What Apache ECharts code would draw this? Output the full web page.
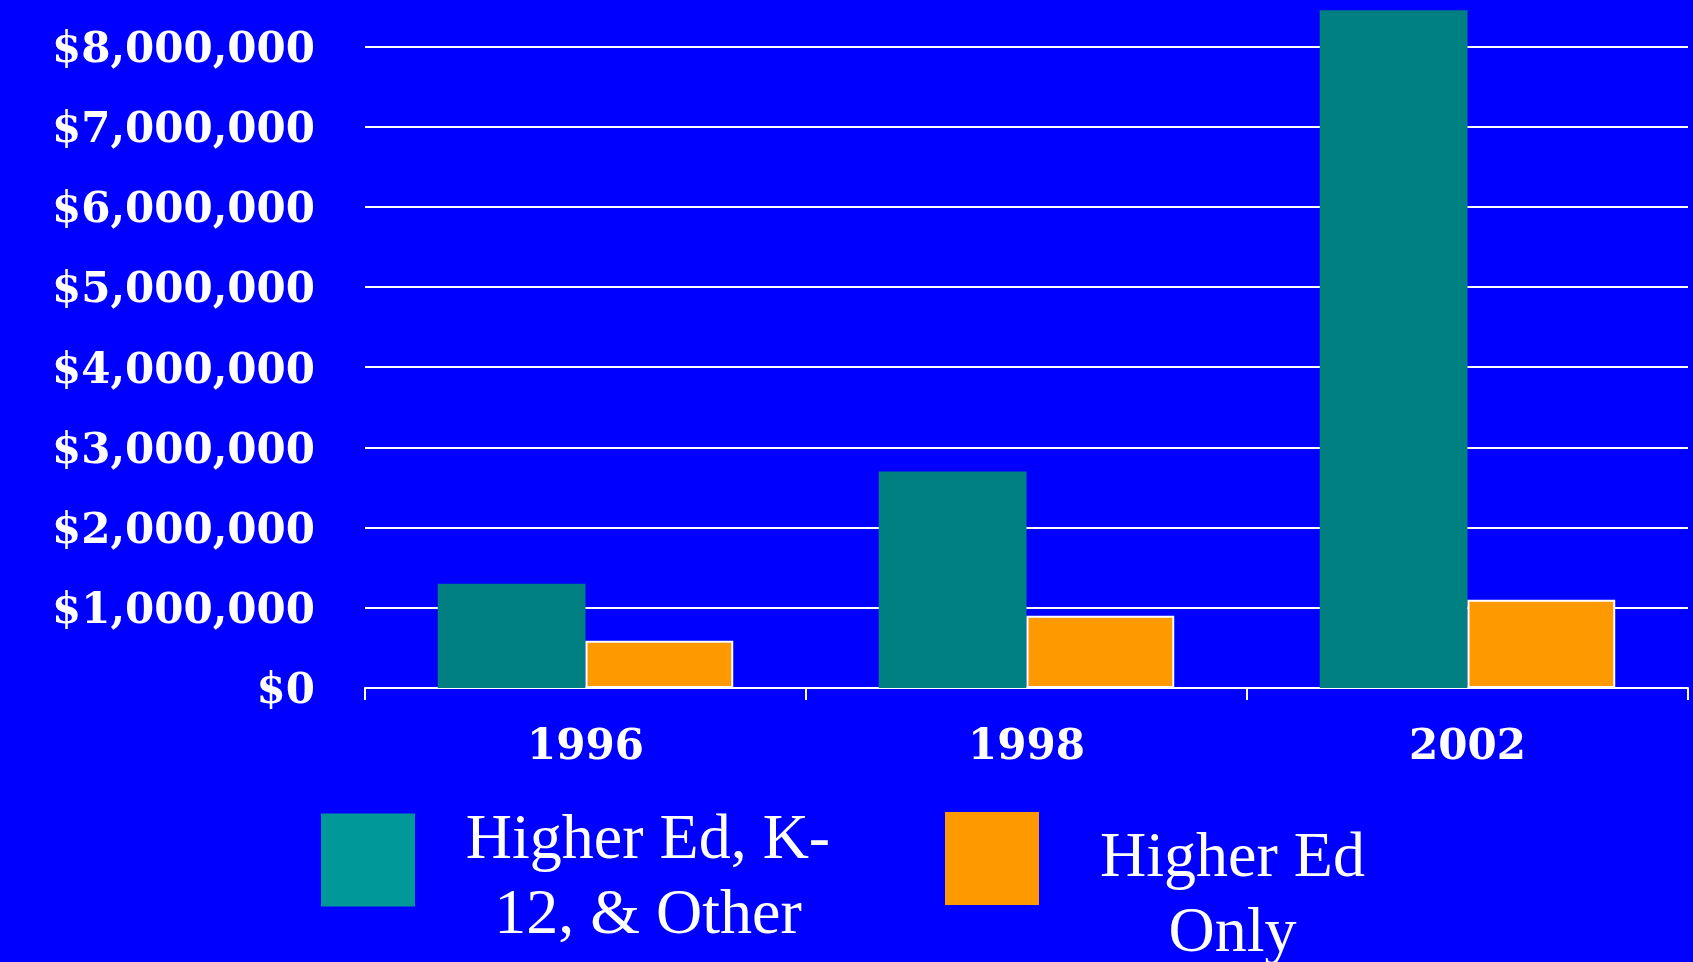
<!DOCTYPE html>
<html>
<head>
<meta charset="utf-8">
<script src="https://cdn.jsdelivr.net/npm/echarts@6/dist/echarts.min.js"></script>
<style>
  html, body { margin: 0; padding: 0; background: #0000FF; }
  #chart { width: 1693px; height: 962px; }
</style>
</head>
<body>
<div id="chart"></div>
<script>
const categories = ['1996', '1998', '2002'];
const seriesNames = ['Higher Ed, K-\n12, & Other', 'Higher Ed\nOnly'];
const higherEdK12Other = [1300000, 2700000, 8450000];
const higherEdOnly = [590000, 900000, 1100000];
const yTickValues = [0, 1000000, 2000000, 3000000, 4000000, 5000000, 6000000, 7000000, 8000000];

const chart = echarts.init(document.getElementById('chart'), null, { renderer: 'canvas' });

function legendText(name) {
  return name.split('\n').map(function (l) { return '{a|' + l + '}'; }).join('\n');
}

const option = {
  backgroundColor: '#0000FF',
  animation: false,
  grid: { left: 365, right: 5, top: 46.4, bottom: 274, containLabel: false },
  xAxis: {
    type: 'category',
    data: categories,
    axisLine: { show: true, lineStyle: { color: '#FFFFFF', width: 2 } },
    axisTick: { show: true, length: 12, lineStyle: { color: '#FFFFFF', width: 2 } },
    axisLabel: {
      color: '#FFFFFF',
      fontFamily: 'DejaVu Serif',
      fontWeight: 'bold',
      fontSize: 42,
      margin: 39
    },
    splitLine: { show: false }
  },
  yAxis: {
    type: 'value',
    min: yTickValues[0],
    max: yTickValues[yTickValues.length - 1],
    interval: yTickValues[1] - yTickValues[0],
    axisLine: { show: false },
    axisTick: { show: false },
    axisLabel: {
      color: '#FFFFFF',
      fontFamily: 'DejaVu Serif',
      fontWeight: 'bold',
      fontSize: 42,
      margin: 50,
      formatter: function (v) { return '{v|$' + Number(v).toLocaleString('en-US') + '}'; },
      rich: {
        v: {
          color: '#FFFFFF',
          fontFamily: 'DejaVu Serif',
          fontWeight: 'bold',
          fontSize: 42,
          padding: [9, 0, 0, 0]
        }
      }
    },
    splitLine: { show: true, lineStyle: { color: '#FFFFFF', width: 2 } }
  },
  legend: [
    {
      data: [{ name: seriesNames[0], itemStyle: { color: '#009999', borderWidth: 0 } }],
      left: 321,
      top: 809,
      padding: 0,
      icon: 'rect',
      itemWidth: 94,
      itemHeight: 93,
      selectedMode: false,
      itemStyle: { borderWidth: 0 },
      formatter: legendText,
      textStyle: {
        color: '#FFFFFF',
        padding: [37, 0, 0, 0],
        rich: {
          a: {
            color: '#FFFFFF',
            fontFamily: 'Liberation Serif',
            fontSize: 64,
            lineHeight: 75,
            width: 456,
            align: 'center'
          }
        }
      }
    },
    {
      data: [{ name: seriesNames[1], itemStyle: { color: '#FF9900', borderWidth: 0 } }],
      left: 945,
      top: 812,
      padding: 0,
      icon: 'rect',
      itemWidth: 94,
      itemHeight: 93,
      selectedMode: false,
      itemStyle: { borderWidth: 0 },
      formatter: legendText,
      textStyle: {
        color: '#FFFFFF',
        padding: [76, 0, 0, 0],
        rich: {
          a: {
            color: '#FFFFFF',
            fontFamily: 'Liberation Serif',
            fontSize: 64,
            lineHeight: 75,
            width: 377,
            align: 'center'
          }
        }
      }
    }
  ],
  series: [
    {
      name: seriesNames[0],
      type: 'bar',
      data: higherEdK12Other,
      barGap: '0%',
      barCategoryGap: '33%',
      clip: false,
      itemStyle: { color: '#008080', borderWidth: 0 }
    },
    {
      name: seriesNames[1],
      type: 'bar',
      data: higherEdOnly,
      barGap: '0%',
      barCategoryGap: '33%',
      clip: false,
      itemStyle: { color: '#FF9900', borderColor: '#FFFFFF', borderWidth: 2 }
    }
  ]
};

chart.setOption(option);
</script>
</body>
</html>
